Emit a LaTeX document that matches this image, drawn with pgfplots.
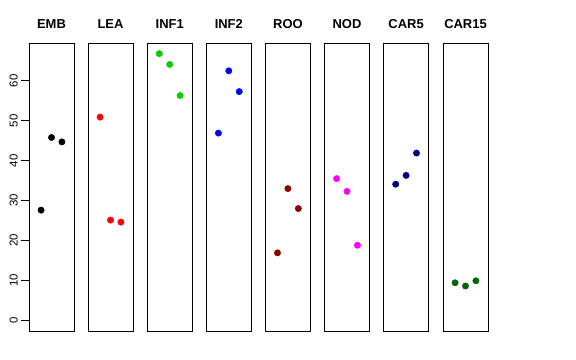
\documentclass[border=0pt]{standalone}
\usepackage{pgfplots}
\pgfplotsset{compat=1.18}
\usepackage{fontspec}
\setmainfont{Liberation Sans}
\definecolor{rgreen}{HTML}{00CD00}
\definecolor{rdarkred}{HTML}{8B0000}
\definecolor{rnavy}{HTML}{000080}
\definecolor{rdarkgreen}{HTML}{006400}
\definecolor{rmagenta}{HTML}{FF00FF}
\definecolor{rred}{HTML}{FF0000}
\definecolor{rblue}{HTML}{0000FF}
\pgfplotsset{
  panel/.style={
    scale only axis, width=45bp, height=287.7bp,
    anchor=south west,
    xmin=-0.16, xmax=4.16, ymin=-2.68, ymax=69.4,
    xtick=\empty, ytick=\empty,
    axis line style={line width=0.8pt},
    title style={at={(0.5,1)}, anchor=base, yshift=9.3bp, inner sep=0pt,
      font=\bfseries\fontsize{13}{13}\selectfont},
    clip=false,
  },
}
\newcommand{\panel}[4]{%
  \begin{axis}[panel, at={(#1bp,29bp)}, title={#2}]
    \addplot[only marks, mark=*, mark size=3.2bp, mark options={fill=#3, draw=#3}] coordinates {#4};
  \end{axis}}
\begin{document}
\begin{tikzpicture}
\useasboundingbox (0,0) rectangle (576bp,360bp);
\begin{axis}[panel, at={(29bp,29bp)}, title={EMB},
  ytick={0,10,...,60}, ytick pos=left, tick align=outside,
  major tick length=8bp, tick style={line width=0.8pt, black},
  /pgf/number format/assume math mode=true,
  yticklabel style={rotate=90, anchor=south, inner xsep=0pt, inner ysep=3bp,
     font=\fontsize{11.5}{11.5}\selectfont}]
  \addplot[only marks, mark=*, mark size=3.2bp, mark options={fill=black, draw=black}] coordinates {(1,27.6) (2,45.8) (3,44.7)};
\end{axis}
\panel{88}{LEA}{rred}{(1,50.9) (2,25.1) (3,24.6)}
\panel{147.2}{INF1}{rgreen}{(1,66.8) (2,64.1) (3,56.3)}
\panel{206.3}{INF2}{rblue}{(1,46.9) (2,62.5) (3,57.3)}
\panel{265.4}{ROO}{rdarkred}{(1,16.9) (2,33.0) (3,28.0)}
\panel{324.5}{NOD}{rmagenta}{(1,35.5) (2,32.3) (3,18.8)}
\panel{383.6}{CAR5}{rnavy}{(1,34.1) (2,36.3) (3,41.9)}
\panel{443}{CAR15}{rdarkgreen}{(1,9.4) (2,8.6) (3,9.9)}
\end{tikzpicture}
\end{document}
